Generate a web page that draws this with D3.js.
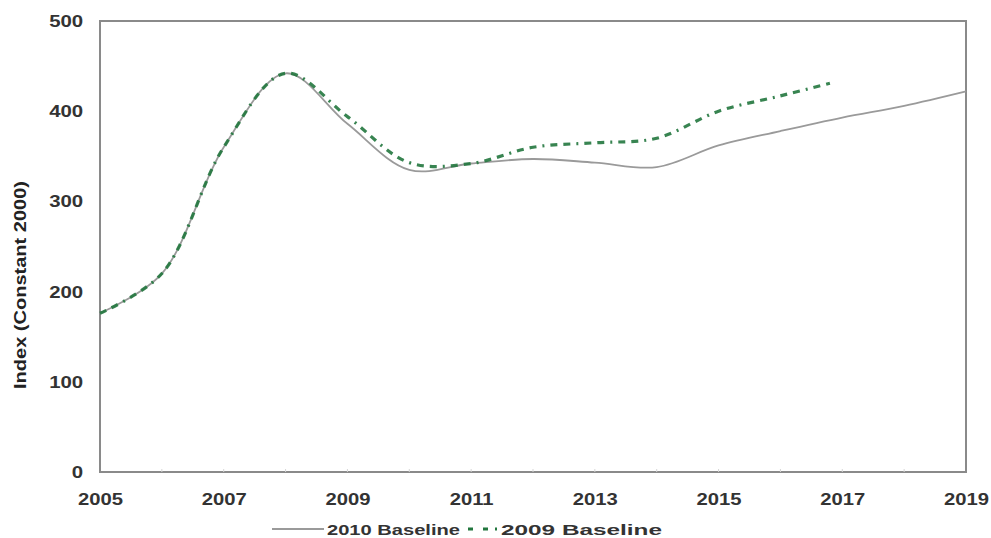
<!DOCTYPE html>
<html>
<head>
<meta charset="utf-8">
<script src="https://cdn.jsdelivr.net/npm/d3@7"></script>
<style>
  html, body { margin: 0; padding: 0; background: #fff; }
  svg { display: block; }
  text { font-family: "Liberation Sans", Arial, sans-serif; }
</style>
</head>
<body>
<svg id="chart" width="991" height="538"></svg>
<script>
// ---- data ----
const years2010 = [2005, 2006, 2007, 2008, 2009, 2010, 2011, 2012, 2013, 2014, 2015, 2016, 2017, 2018, 2019];
const baseline2010 = [176, 220, 360, 442, 386, 335, 342, 347, 343, 338, 362, 378, 393, 406, 422];
const years2009 = [2005, 2006, 2007, 2008, 2009, 2010, 2011, 2012, 2013, 2014, 2015, 2016, 2016.8];
const baseline2009 = [176, 220, 360, 442, 394, 343, 342, 360, 365, 370, 400, 417, 431];
const xTicks = [2005, 2007, 2009, 2011, 2013, 2015, 2017, 2019];
const yTicks = [0, 100, 200, 300, 400, 500];
const seriesNames = ["2010 Baseline", "2009 Baseline"];

// ---- layout ----
const svg = d3.select("#chart");
const m = { left: 100, right: 966, top: 21, bottom: 472 };

const x = d3.scaleLinear().domain([2005, 2019]).range([m.left, m.right]);
const y = d3.scaleLinear().domain([0, 500]).range([m.bottom, m.top]);

// frame
svg.append("rect")
  .attr("x", m.left).attr("y", m.top)
  .attr("width", m.right - m.left).attr("height", m.bottom - m.top)
  .attr("fill", "none").attr("stroke", "#8a8a8a").attr("stroke-width", 2);

// minor x ticks (every year)
svg.append("g").selectAll("line")
  .data(d3.range(2006, 2019))
  .join("line")
  .attr("x1", d => x(d)).attr("x2", d => x(d))
  .attr("y1", m.bottom).attr("y2", m.bottom - 3)
  .attr("stroke", "#d5d5d5").attr("stroke-width", 1);

// axes labels via d3 axes
const xAxis = svg.append("g")
  .attr("transform", `translate(0,${m.bottom})`)
  .call(d3.axisBottom(x).tickValues(xTicks).tickFormat(d3.format("d")).tickSize(0).tickPadding(21));
xAxis.select(".domain").remove();
xAxis.selectAll("text")
  .attr("font-family", "Liberation Sans, Arial, sans-serif")
  .attr("font-size", 17).attr("font-weight", "bold").attr("fill", "#333")
  .attr("transform", "scale(1.19,1)");

const yAxis = svg.append("g")
  .attr("transform", `translate(${m.left},0)`)
  .call(d3.axisLeft(y).tickValues(yTicks).tickSize(0).tickPadding(14));
yAxis.select(".domain").remove();
yAxis.selectAll("text")
  .attr("font-family", "Liberation Sans, Arial, sans-serif")
  .attr("font-size", 17).attr("font-weight", "bold").attr("fill", "#333")
  .attr("transform", "scale(1.2,1)");

// y title
svg.append("text")
  .attr("transform", `translate(26,285) rotate(-90)`)
  .attr("text-anchor", "middle")
  .attr("font-size", 16).attr("font-weight", "bold").attr("fill", "#222")
  .attr("textLength", 208).attr("lengthAdjust", "spacingAndGlyphs")
  .text("Index (Constant 2000)");

// lines
const line = d3.line()
  .x(d => x(d[0])).y(d => y(d[1]))
  .curve(d3.curveCatmullRom.alpha(0.5));

const data2010 = years2010.map((yr, i) => [yr, baseline2010[i]]);
const data2009 = years2009.map((yr, i) => [yr, baseline2009[i]]);

svg.append("path")
  .attr("d", line(data2010))
  .attr("fill", "none").attr("stroke", "#9a9a9a").attr("stroke-width", 1.8);

svg.append("path")
  .attr("d", line(data2009))
  .attr("fill", "none").attr("stroke", "#22773e").attr("stroke-width", 3.2)
  .attr("stroke-dasharray", "7,6,7,6,2,6")
  .attr("opacity", 0.9);

// legend
const lg = svg.append("g");
lg.append("line")
  .attr("x1", 272).attr("x2", 324).attr("y1", 529).attr("y2", 529)
  .attr("stroke", "#9a9a9a").attr("stroke-width", 1.8);
lg.append("text")
  .attr("x", 327).attr("y", 535)
  .attr("font-size", 15).attr("font-weight", "bold").attr("fill", "#333")
  .attr("textLength", 133).attr("lengthAdjust", "spacingAndGlyphs")
  .text(seriesNames[0]);
lg.append("line")
  .attr("x1", 468).attr("x2", 498).attr("y1", 529).attr("y2", 529)
  .attr("stroke", "#22773e").attr("stroke-width", 3.2)
  .attr("stroke-dasharray", "5,10,5,7,2,20");
lg.append("text")
  .attr("x", 501).attr("y", 535)
  .attr("font-size", 15).attr("font-weight", "bold").attr("fill", "#333")
  .attr("textLength", 161).attr("lengthAdjust", "spacingAndGlyphs")
  .text(seriesNames[1]);
</script>
</body>
</html>
